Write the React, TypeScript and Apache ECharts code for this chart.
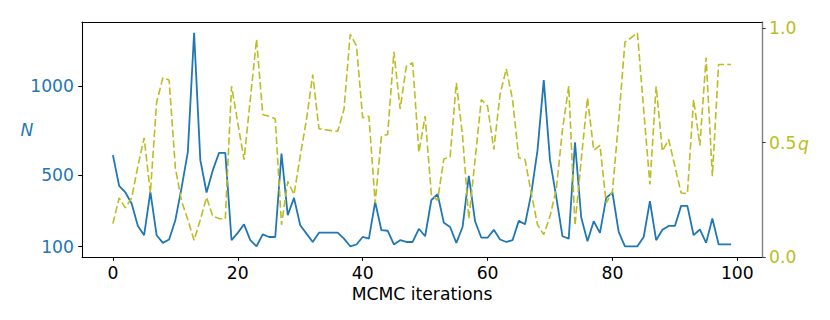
import React, { useEffect, useRef } from "react";
import * as echarts from "echarts";

// MCMC iteration index (x)
const iterations: number[] = [
  0, 1, 2, 3, 4, 5, 6, 7, 8, 9, 10, 11, 12, 13, 14, 15, 16, 17, 18, 19,
  20, 21, 22, 23, 24, 25, 26, 27, 28, 29, 30, 31, 32, 33, 34, 35, 36, 37, 38, 39,
  40, 41, 42, 43, 44, 45, 46, 47, 48, 49, 50, 51, 52, 53, 54, 55, 56, 57, 58, 59,
  60, 61, 62, 63, 64, 65, 66, 67, 68, 69, 70, 71, 72, 73, 74, 75, 76, 77, 78, 79,
  80, 81, 82, 83, 84, 85, 86, 87, 88, 89, 90, 91, 92, 93, 94, 95, 96, 97, 98, 99,
];

// N (left axis, solid blue)
const nValues: number[] = [
  612, 440, 403, 341, 216, 164, 406, 164, 121, 140,
  248, 430, 630, 1297, 584, 403, 528, 625, 625, 136,
  177, 225, 136, 102, 169, 154, 154, 621, 276, 373,
  220, 173, 126, 178, 178, 178, 178, 145, 102, 112,
  154, 145, 350, 192, 189, 112, 136, 126, 126, 200,
  158, 361, 393, 233, 210, 121, 210, 496, 242, 150,
  150, 194, 140, 126, 136, 244, 225, 397, 640, 1032,
  584, 378, 158, 145, 683, 263, 130, 242, 177, 373,
  403, 182, 102, 102, 102, 154, 354, 136, 194, 216,
  216, 328, 328, 164, 196, 121, 257, 113, 113, 113,
];

// q (right axis, dashed olive)
const qValues: number[] = [
  0.146, 0.258, 0.215, 0.258, 0.397, 0.521, 0.28, 0.677, 0.784, 0.774,
  0.39, 0.244, 0.163, 0.073, 0.163, 0.261, 0.178, 0.168, 0.167, 0.747,
  0.587, 0.426, 0.689, 0.952, 0.623, 0.616, 0.604, 0.141, 0.331, 0.273,
  0.441, 0.601, 0.798, 0.561, 0.557, 0.553, 0.55, 0.645, 0.974, 0.925,
  0.609, 0.616, 0.236, 0.528, 0.536, 0.898, 0.648, 0.835, 0.85, 0.458,
  0.616, 0.273, 0.248, 0.429, 0.438, 0.762, 0.528, 0.166, 0.426, 0.689,
  0.66, 0.47, 0.711, 0.823, 0.689, 0.434, 0.426, 0.28, 0.141, 0.098,
  0.178, 0.295, 0.558, 0.747, 0.137, 0.426, 0.696, 0.467, 0.488, 0.236,
  0.287, 0.6, 0.94, 0.959, 0.981, 0.645, 0.317, 0.747, 0.463, 0.514,
  0.397, 0.28, 0.277, 0.689, 0.488, 0.872, 0.353, 0.842, 0.842, 0.842,
];

const xTicks: number[] = [0, 20, 40, 60, 80, 100];
const nTicks: number[] = [100, 500, 1000];
const qTicks: number[] = [0, 0.5, 1.0];

const BLUE = "#1f77b4";
const OLIVE = "#bcbd22";
const FONT = "DejaVu Sans";
const FS = 17.2;

export default function App() {
  const ref = useRef<HTMLDivElement>(null);

  useEffect(() => {
    if (!ref.current) return;
    const chart = echarts.init(ref.current, undefined, { renderer: "svg" });
    const option: any = {
      animation: false,
      backgroundColor: "#ffffff",
      textStyle: { fontFamily: FONT },
      grid: {
        left: 82,
        right: 68,
        top: 22,
        bottom: 63,
        containLabel: false,
        outerBoundsMode: "none",
      },
      xAxis: [
        {
          type: "value",
          position: "bottom",
          min: -4.95,
          max: 103.95,
          axisLine: { show: true, onZero: false, lineStyle: { color: "#000", width: 1.07 } },
          axisTick: {
            show: true,
            customValues: xTicks,
            length: 3.8,
            lineStyle: { color: "#000", width: 1.07 },
          },
          axisLabel: {
            customValues: xTicks,
            formatter: (v: number) => String(v),
            margin: 7,
            color: "#000",
            fontFamily: FONT,
            fontSize: FS,
          },
          splitLine: { show: false },
          name: "MCMC iterations",
          nameLocation: "middle",
          nameGap: 23,
          nameTextStyle: { color: "#000", fontFamily: FONT, fontSize: FS },
        },
        {
          type: "value",
          position: "top",
          min: -4.95,
          max: 103.95,
          axisLine: { show: true, onZero: false, lineStyle: { color: "#000", width: 1.07 } },
          axisTick: { show: false },
          axisLabel: { show: false },
          splitLine: { show: false },
        },
      ],
      yAxis: [
        {
          type: "value",
          position: "left",
          min: 42,
          max: 1357,
          axisLine: { show: true, onZero: false, lineStyle: { color: "#000", width: 1.07 } },
          axisTick: {
            show: true,
            customValues: nTicks,
            length: 3.8,
            lineStyle: { color: "#000", width: 1.07 },
          },
          axisLabel: {
            customValues: nTicks,
            formatter: (v: number) => String(v),
            margin: 8,
            color: BLUE,
            fontFamily: FONT,
            fontSize: FS,
          },
          splitLine: { show: false },
        },
        {
          type: "value",
          position: "right",
          min: 0,
          max: 1.028,
          axisLine: { show: true, onZero: false, lineStyle: { color: "#808080", width: 1.4 } },
          axisTick: {
            show: true,
            customValues: qTicks,
            length: 3.8,
            lineStyle: { color: "#444", width: 1.07 },
          },
          axisLabel: {
            customValues: qTicks,
            formatter: (v: number) => v.toFixed(1),
            margin: 7,
            color: OLIVE,
            fontFamily: FONT,
            fontSize: FS,
          },
          splitLine: { show: false },
        },
      ],
      series: [
        {
          type: "line",
          name: "N",
          xAxisIndex: 0,
          yAxisIndex: 0,
          data: iterations.map((it, i) => [it, nValues[i]]),
          symbol: "none",
          showSymbol: false,
          lineStyle: { color: BLUE, width: 1.8 },
          z: 2,
        },
        {
          type: "line",
          name: "q",
          xAxisIndex: 0,
          yAxisIndex: 1,
          data: iterations.map((it, i) => [it, qValues[i]]),
          symbol: "none",
          showSymbol: false,
          lineStyle: { color: OLIVE, width: 1.6, type: [7.4, 3.2] },
          z: 3,
        },
      ],
      graphic: [
        {
          type: "text",
          x: 27,
          y: 130,
          style: {
            text: "N",
            fill: BLUE,
            font: `italic ${FS}px "${FONT}"`,
            textAlign: "center",
            textVerticalAlign: "middle",
          },
        },
        {
          type: "text",
          x: 798,
          y: 144,
          style: {
            text: "q",
            fill: OLIVE,
            font: `italic ${FS}px "${FONT}"`,
            textAlign: "left",
            textVerticalAlign: "middle",
          },
        },
      ],
    };
    chart.setOption(option);
    return () => chart.dispose();
  }, []);

  return (
    <div
      ref={ref}
      style={{ position: "absolute", left: 0, top: 0, width: 830, height: 320 }}
    />
  );
}
